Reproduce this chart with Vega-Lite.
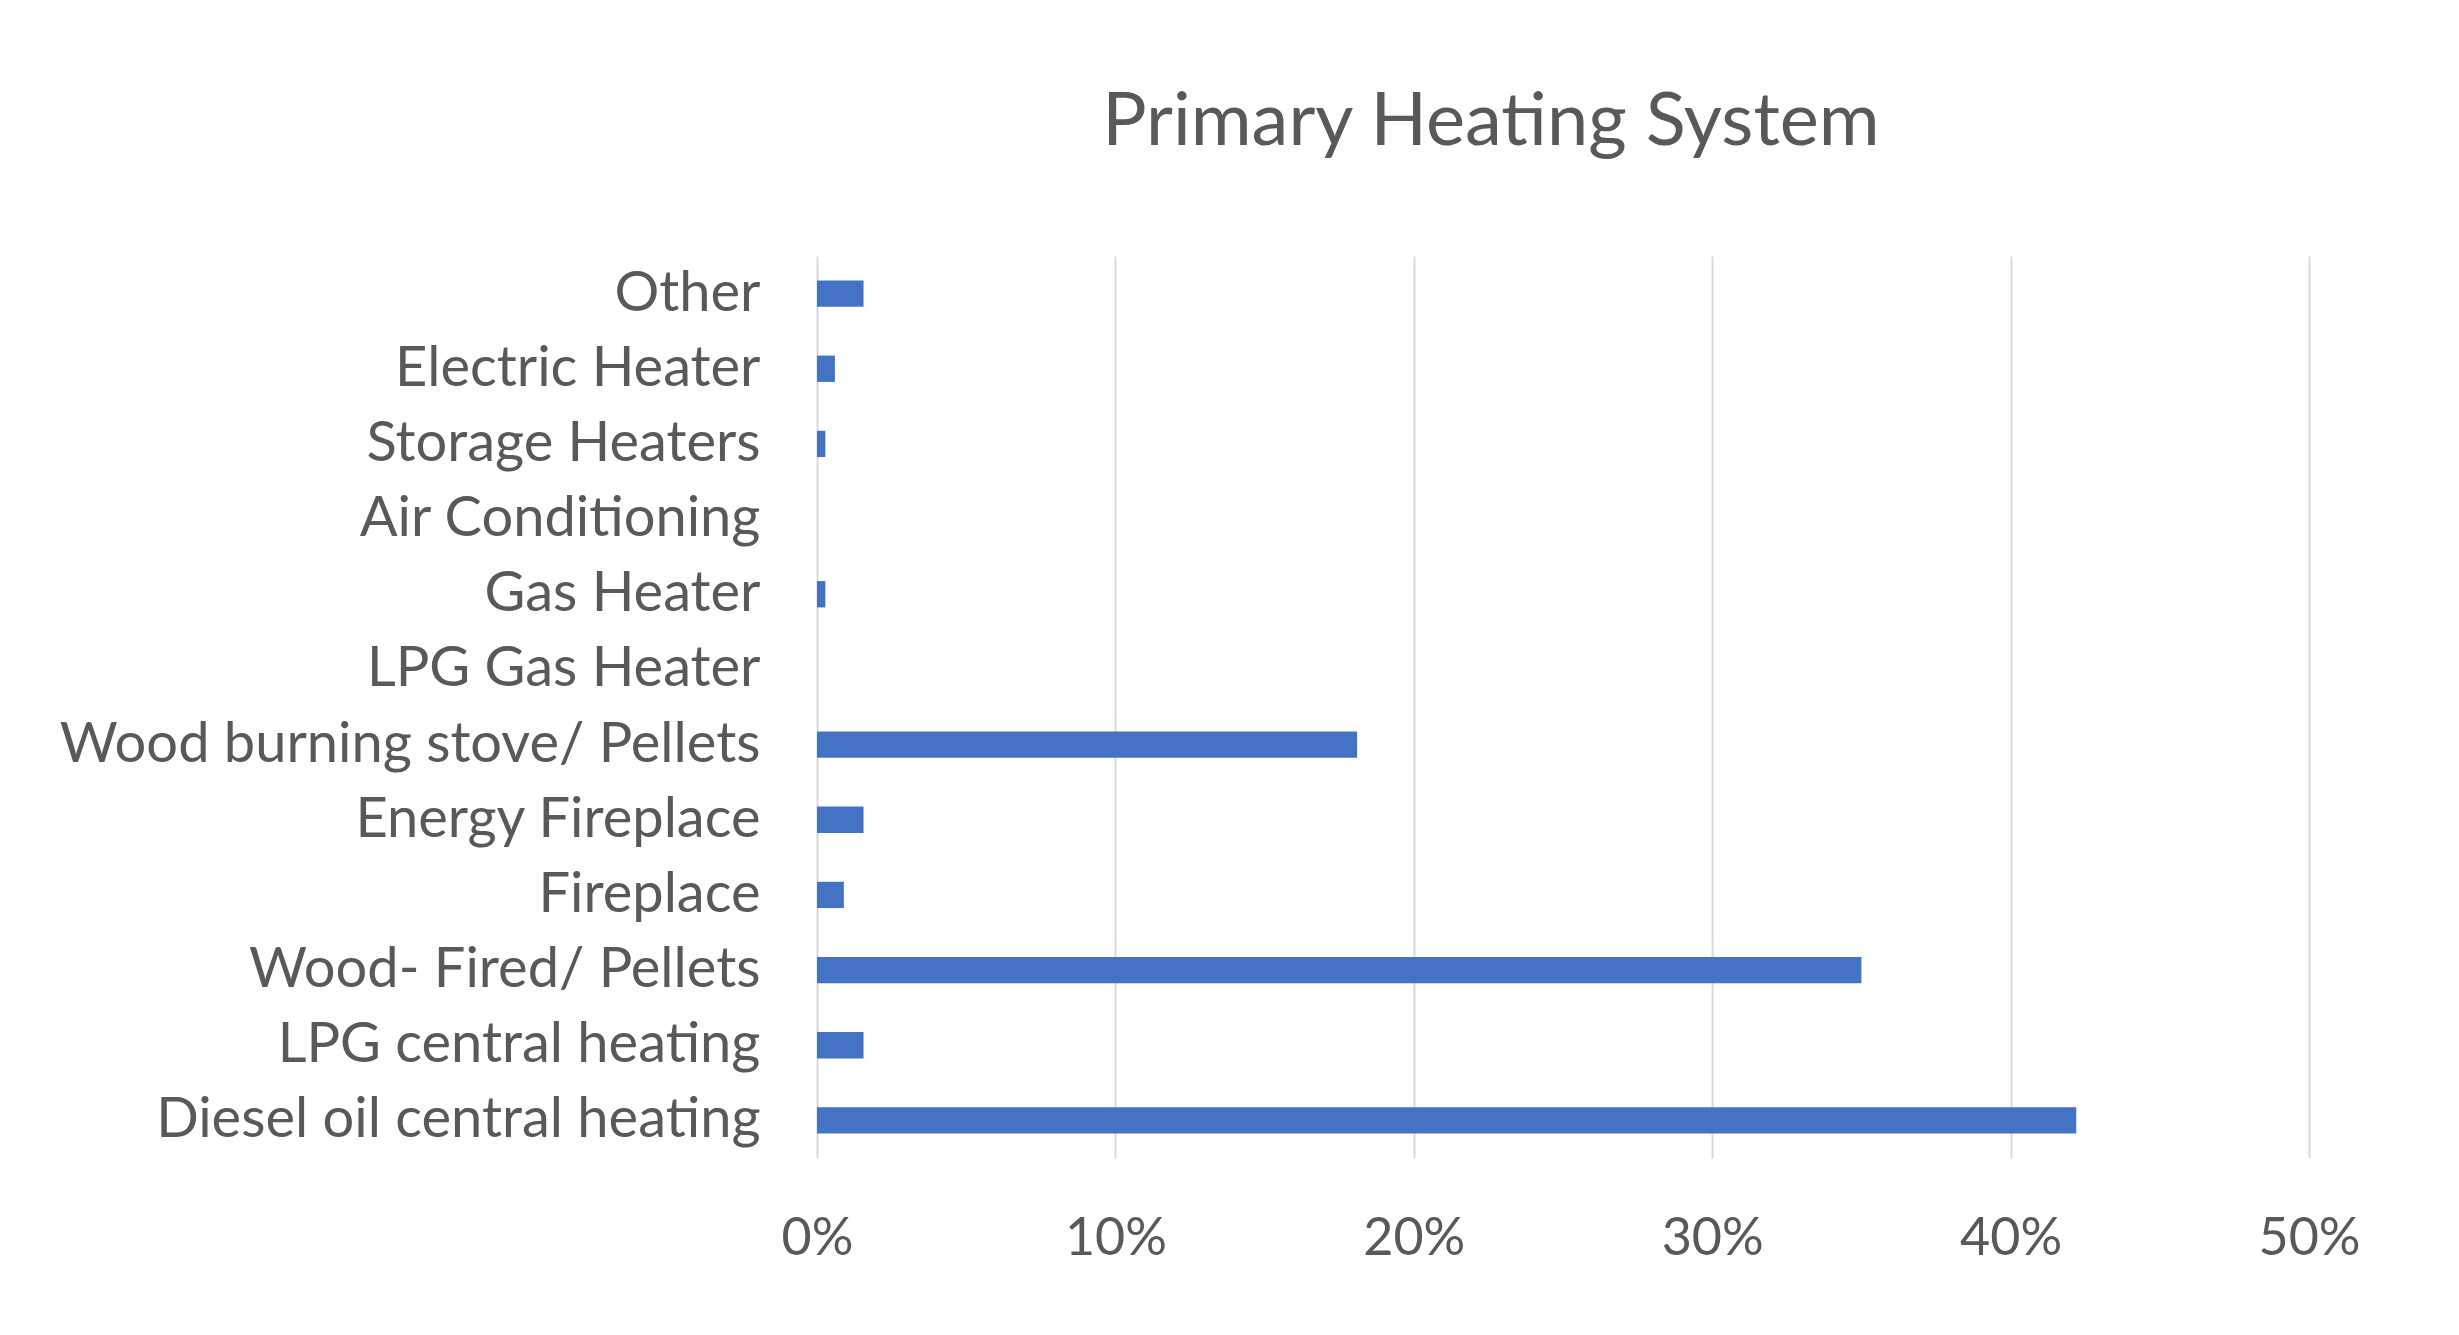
{
  "$schema": "https://vega.github.io/schema/vega-lite/v6.json",
  "autosize": {"type": "none"},
  "padding": {"left": 817, "top": 256, "right": 150, "bottom": 177},
  "width": 1492,
  "height": 902,
  "background": "white",
  "title": {
    "text": "Primary Heating System",
    "font": "Lato",
    "fontSize": 74,
    "fontWeight": "normal",
    "color": "#595959",
    "anchor": "middle",
    "frame": "group",
    "baseline": "alphabetic",
    "offset": 37,
    "dx": -72
  },
  "data": {
    "values": [
      {"system": "Other", "share": 0.0156},
      {"system": "Electric Heater", "share": 0.006},
      {"system": "Storage Heaters", "share": 0.0028},
      {"system": "Air Conditioning", "share": 0},
      {"system": "Gas Heater", "share": 0.0028},
      {"system": "LPG Gas Heater", "share": 0},
      {"system": "Wood burning stove/ Pellets", "share": 0.181},
      {"system": "Energy Fireplace", "share": 0.0156},
      {"system": "Fireplace", "share": 0.009},
      {"system": "Wood- Fired/ Pellets", "share": 0.35},
      {"system": "LPG central heating", "share": 0.0156},
      {"system": "Diesel oil central heating", "share": 0.422}
    ]
  },
  "mark": {"type": "bar", "color": "#4472C4"},
  "encoding": {
    "y": {
      "field": "system",
      "type": "nominal",
      "sort": null,
      "scale": {"paddingInner": 0.65, "paddingOuter": 0.325},
      "axis": {
        "title": null,
        "ticks": false,
        "domain": false,
        "labelFont": "Lato",
        "labelFontSize": 56,
        "labelColor": "#595959",
        "labelPadding": 57,
        "labelLimit": 0
      }
    },
    "x": {
      "field": "share",
      "type": "quantitative",
      "scale": {"domain": [0, 0.5], "nice": false},
      "axis": {
        "title": null,
        "format": ".0%",
        "values": [0, 0.1, 0.2, 0.3, 0.4, 0.5],
        "ticks": false,
        "domain": false,
        "grid": true,
        "gridColor": "#D9D9D9",
        "gridWidth": 2,
        "labelFont": "Lato",
        "labelFontSize": 52,
        "labelColor": "#595959",
        "labelBaseline": "middle",
        "labelPadding": 80,
        "labelFlush": false
      }
    }
  },
  "config": {
    "view": {"stroke": null}
  }
}
